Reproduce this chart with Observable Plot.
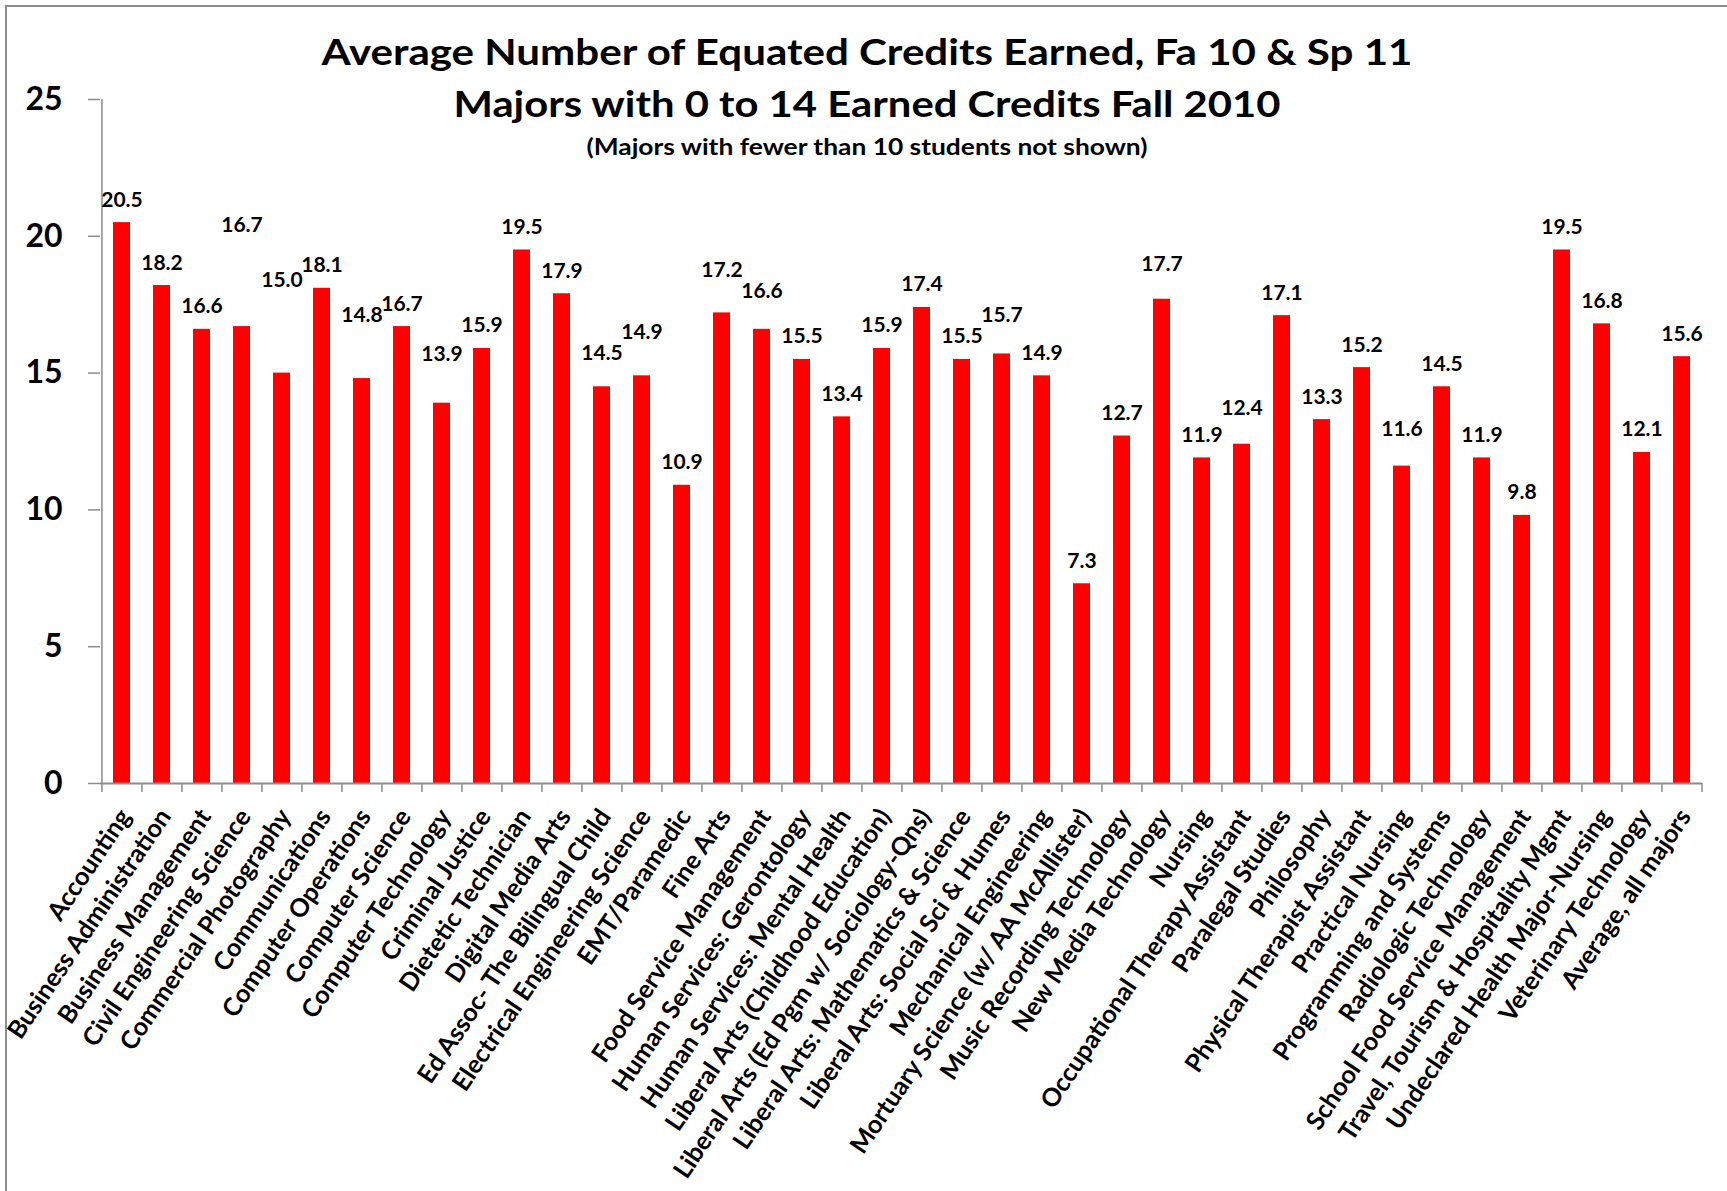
<!DOCTYPE html>
<html>
<head>
<meta charset="utf-8">
<script src="https://cdn.jsdelivr.net/npm/d3@7"></script>
<script src="https://cdn.jsdelivr.net/npm/@observablehq/plot@0.6"></script>
<style>
  html, body { margin: 0; padding: 0; background: #fff; overflow: hidden; }
  #wrap { position: relative; width: 1727px; height: 1191px; }
  #border { position: absolute; left: 5px; top: 5px; width: 1800px; height: 1300px;
            border-left: 2px solid #8c8c8c; border-top: 2px solid #8c8c8c; }
  #chart { position: absolute; left: 0; top: 0; }
  #titles { position: absolute; left: 0; top: 0; pointer-events: none; }
  #titles text { font-family: Lato, "Open Sans", sans-serif; font-weight: 700; fill: #000; }
</style>
</head>
<body>
<div id="wrap">
  <div id="border"></div>
  <div id="chart"></div>
  <svg id="titles" width="1727" height="200"></svg>
</div>
<script>
// ---- data ----
const majors = [
  "Accounting", "Business Administration", "Business Management", "Civil Engineering Science",
  "Commercial Photography", "Communications", "Computer Operations", "Computer Science",
  "Computer Technology", "Criminal Justice", "Dietetic Technician", "Digital Media Arts",
  "Ed Assoc- The Bilingual Child", "Electrical Engineering Science", "EMT/Paramedic", "Fine Arts",
  "Food Service Management", "Human Services: Gerontology", "Human Services: Mental Health",
  "Liberal Arts (Childhood Education)", "Liberal Arts (Ed Pgm w/ Sociology-Qns)",
  "Liberal Arts: Mathematics & Science", "Liberal Arts: Social Sci & Humes", "Mechanical Engineering",
  "Mortuary Science (w/ AA McAllister)", "Music Recording Technology", "New Media Technology",
  "Nursing", "Occupational Therapy Assistant", "Paralegal Studies", "Philosophy",
  "Physical Therapist Assistant", "Practical Nursing", "Programming and Systems",
  "Radiologic Technology", "School Food Service Management", "Travel, Tourism & Hospitality Mgmt",
  "Undeclared Health Major-Nursing", "Veterinary Technology", "Average, all majors"
];
const credits = [
  20.5, 18.2, 16.6, 16.7, 15.0, 18.1, 14.8, 16.7, 13.9, 15.9,
  19.5, 17.9, 14.5, 14.9, 10.9, 17.2, 16.6, 15.5, 13.4, 15.9,
  17.4, 15.5, 15.7, 14.9, 7.3, 12.7, 17.7, 11.9, 12.4, 17.1,
  13.3, 15.2, 11.6, 14.5, 11.9, 9.8, 19.5, 16.8, 12.1, 15.6
];
const yTicks = [0, 5, 10, 15, 20, 25];
const titleLines = [
  "Average Number of Equated Credits Earned, Fa 10 & Sp 11",
  "Majors with 0 to 14 Earned Credits Fall 2010",
  "(Majors with fewer than 10 students not shown)"
];
// data labels that sit higher than the default spot in the original (credit units)
const labelLift = {
  "Civil Engineering Science": 2.86, "Commercial Photography": 2.58, "Computer Operations": 1.49,
  "Computer Technology": 0.97, "Ed Assoc- The Bilingual Child": 0.4,
  "Electrical Engineering Science": 0.76, "Fine Arts": 0.72,
  "Food Service Management": 0.56, "Liberal Arts: Social Sci & Humes": 0.6,
  "New Media Technology": 0.44, "Occupational Therapy Assistant": 0.47, "Practical Nursing": 0.5
};

const data = majors.map((m, i) => ({major: m, value: credits[i]}));

// ---- layout ----
const W = 1727, H = 1191;
const mL = 100, mR = 25, mT = 99, mB = 408;
const step = (W - mL - mR) / majors.length;
const pxPerUnit = (H - mT - mB) / 25;
const axisGray = "#8c8c8c";

const ctx = document.createElement("canvas").getContext("2d");
ctx.font = "bold 100px Lato";
const refW = ctx.measureText("Occupational Therapy Assistant").width;
const xFont = 357 / refW * 100;

const chart = Plot.plot({
  width: W, height: H,
  marginLeft: mL, marginRight: mR, marginTop: mT, marginBottom: mB,
  style: {fontFamily: "Lato, 'Open Sans', sans-serif", background: "transparent", overflow: "visible", color: "#000"},
  x: {domain: majors, paddingInner: 0.575, paddingOuter: 0.2875, axis: null},
  y: {domain: [0, 25], axis: null},
  marks: [
    Plot.barY(data, {x: "major", y: "value", fill: "#ff0000"}),
    Plot.ruleY([0], {stroke: axisGray, strokeWidth: 2}),
    Plot.ruleX([majors[0]], {x: d => d, y1: () => 0, y2: () => 25, dx: -step / 2, stroke: axisGray, strokeWidth: 1.5}),
    Plot.ruleX(majors, {x: d => d, y1: () => 0, y2: () => -9 / pxPerUnit, dx: -step / 2, stroke: axisGray, strokeWidth: 1.5}),
    Plot.ruleX([majors[majors.length - 1]], {x: d => d, y1: () => 0, y2: () => -9 / pxPerUnit, dx: step / 2, stroke: axisGray, strokeWidth: 1.5}),
    Plot.axisY(yTicks, {tickSize: 12, tickPadding: 26, fontSize: 32, fontWeight: "bold", stroke: axisGray, fill: "#000", label: null, strokeWidth: 1.5}),
    Plot.text(data, {
      x: "major", y: d => d.value + (labelLift[d.major] || 0),
      text: d => d.value.toFixed(1), dy: -16, lineAnchor: "bottom",
      fontSize: 21, fontWeight: "bold", fill: "#000"
    }),
    Plot.text(majors, {
      x: d => d, y: () => 0, text: d => d, rotate: -56, textAnchor: "end", lineAnchor: "bottom",
      dx: 10, dy: 33, fontSize: xFont, fontWeight: "bold", fill: "#000"
    })
  ]
});
document.getElementById("chart").appendChild(chart);

// ---- titles ----
const tsvg = d3.select("#titles");
const titleSpecs = [
  {y: 65, size: 36, len: 1091},
  {y: 117, size: 36, len: 827},
  {y: 155, size: 22, len: 561}
];
titleLines.forEach((t, i) => {
  tsvg.append("text")
    .attr("x", 867).attr("y", titleSpecs[i].y)
    .attr("text-anchor", "middle")
    .attr("font-size", titleSpecs[i].size)
    .attr("textLength", titleSpecs[i].len)
    .attr("lengthAdjust", "spacingAndGlyphs")
    .text(t);
});
</script>
</body>
</html>
